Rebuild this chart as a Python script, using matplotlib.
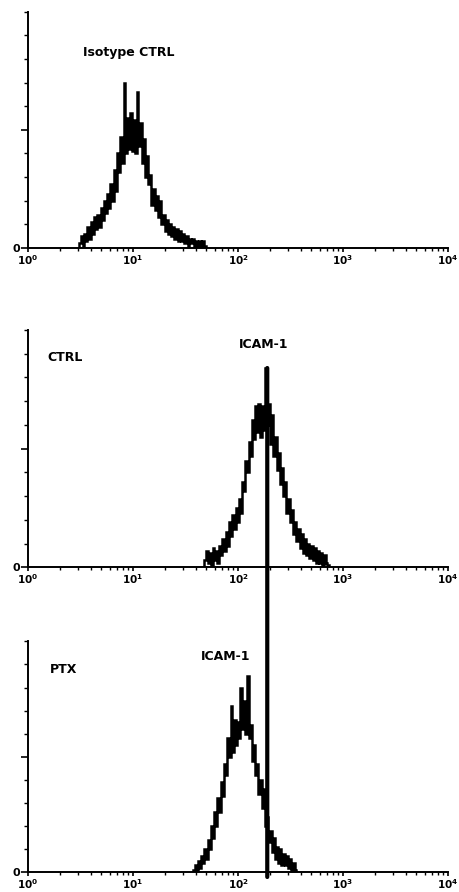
#!/usr/bin/env python
# -*- coding: utf-8 -*-

"""
Flow cytometry histograms: isotype control, ICAM-1 on CTRL and on PTX cells.
Log fluorescence axis (4 decades), counts on a relative scale (0-100).
"""

import numpy as np

import matplotlib as mpl
mpl.use('Agg')
mpl.rcParams.update({'font.family': 'DejaVu Sans'})

import matplotlib.pyplot as plt
from matplotlib.patches import ConnectionPatch

# channel settings: 1024 channels over 4 decades, 4 channels per bin
CH_PER_DECADE = 256
CH_PER_BIN = 4

# Isotype CTRL histogram
iso_start_ch = 125
iso_counts = [2, 5, 1, 6, 3, 9, 4, 11, 6, 13,
              8, 14, 9, 17, 12, 20, 15, 23, 17, 27,
              20, 33, 24, 40, 32, 47, 36, 70, 40, 55,
              42, 57, 41, 54, 40, 66, 43, 53, 36, 46,
              30, 39, 27, 31, 18, 25, 16, 22, 13, 20,
              10, 14, 7, 12, 6, 10, 5, 9, 4, 8,
              3, 7, 3, 6, 2, 5, 1, 4, 2, 4,
              1, 3, 1, 3, 0, 3, 1, 0]

# ICAM-1, CTRL cells
ctrl_start_ch = 430
ctrl_counts = [3, 7, 2, 6, 1, 8, 3, 7, 2, 9,
               5, 12, 7, 15, 9, 19, 13, 22, 16, 25,
               19, 29, 23, 36, 32, 45, 40, 53, 47, 62,
               54, 68, 57, 69, 55, 68, 58, 84, 60, 69,
               52, 64, 47, 55, 41, 48, 35, 42, 30, 36,
               23, 29, 19, 24, 14, 19, 11, 16, 8, 14,
               6, 12, 5, 10, 4, 9, 3, 8, 2, 7,
               2, 6, 1, 5, 2, 1]

# ICAM-1, PTX cells
ptx_start_ch = 402
ptx_counts = [1, 3, 1, 5, 2, 7, 4, 10, 6, 14,
              10, 20, 15, 26, 20, 32, 26, 39, 33, 47,
              42, 58, 50, 72, 52, 66, 55, 65, 58, 80,
              62, 74, 60, 85, 58, 64, 48, 55, 42, 47,
              34, 40, 28, 36, 20, 24, 13, 18, 9, 15,
              6, 11, 4, 10, 3, 8, 3, 7, 2, 6,
              1, 4, 1, 0]

# marker line (CTRL ICAM-1 peak) and its top in the CTRL panel
marker_x = 190
marker_top = 84

panel_labels = ['Isotype CTRL', 'CTRL', 'PTX']
xtick_values = [1, 10, 100, 1000, 10000]
xtick_labels = [r'$\mathbf{10^{0}}$', r'$\mathbf{10^{1}}$', r'$\mathbf{10^{2}}$',
                r'$\mathbf{10^{3}}$', r'$\mathbf{10^{4}}$']


def channel_edges(start_ch, counts):
    """bin edges in fluorescence units for a list of counts"""
    ch = start_ch + CH_PER_BIN * np.arange(len(counts) + 1)
    return 10 ** (ch / CH_PER_DECADE)


def setup_axis(ax):
    """axis look of the old cytometer printout"""
    ax.set_xscale('log')
    ax.set_xlim(1, 10000)
    ax.set_ylim(0, 100)
    ax.spines['top'].set_visible(False)
    ax.spines['right'].set_visible(False)
    ax.spines['left'].set_linewidth(1.4)
    ax.spines['bottom'].set_linewidth(1.4)

    ax.set_xticks(xtick_values, xtick_labels)
    ax.xaxis.set_minor_locator(mpl.ticker.LogLocator(base=10, subs=np.arange(2, 10)))
    ax.xaxis.set_minor_formatter(mpl.ticker.NullFormatter())
    ax.tick_params(axis='x', which='major', length=3, width=1.2, labelsize=7.5,
                   pad=0.5)
    ax.tick_params(axis='x', which='minor', length=2, width=1.0)

    ax.set_yticks([0, 50], ['0', ''])
    ax.set_yticks(np.arange(10, 101, 10), minor=True)
    ax.tick_params(axis='y', which='major', length=5, width=1.2, labelsize=8,
                   pad=1)
    ax.tick_params(axis='y', which='minor', length=3, width=1.0)
    for lab in ax.get_yticklabels():
        lab.set_fontweight('bold')


def main():
    fig = plt.figure(figsize=(4.59, 8.92), dpi=100)
    ax1 = fig.add_axes([0.061, 0.722, 0.915, 0.265])
    ax2 = fig.add_axes([0.061, 0.364, 0.915, 0.266])
    ax3 = fig.add_axes([0.061, 0.022, 0.915, 0.259])

    data = [(ax1, iso_start_ch, iso_counts),
            (ax2, ctrl_start_ch, ctrl_counts),
            (ax3, ptx_start_ch, ptx_counts)]
    for ax, start, counts in data:
        setup_axis(ax)
        ax.stairs(counts, channel_edges(start, counts), baseline=0,
                  color='black', linewidth=1.8)

    # panel texts
    ax1.text(0.131, 0.826, panel_labels[0], transform=ax1.transAxes,
             fontsize=9, fontweight='bold', va='center', ha='left')
    ax2.text(0.045, 0.886, panel_labels[1], transform=ax2.transAxes,
             fontsize=9, fontweight='bold', va='center', ha='left')
    ax2.text(0.56, 0.937, 'ICAM-1', transform=ax2.transAxes,
             fontsize=9, fontweight='bold', va='center', ha='center')
    ax3.text(0.052, 0.88, panel_labels[2], transform=ax3.transAxes,
             fontsize=9, fontweight='bold', va='center', ha='left')
    ax3.text(0.471, 0.936, 'ICAM-1', transform=ax3.transAxes,
             fontsize=9, fontweight='bold', va='center', ha='center')

    # marker line running from the CTRL peak down to the PTX baseline
    con = ConnectionPatch(xyA=(marker_x, marker_top), coordsA=ax2.transData,
                          xyB=(marker_x, -2), coordsB=ax3.transData,
                          color='black', linewidth=3)
    fig.add_artist(con)

    fig.savefig('out.png', dpi=100)
    plt.close(fig)


if __name__ == "__main__":
    main()
